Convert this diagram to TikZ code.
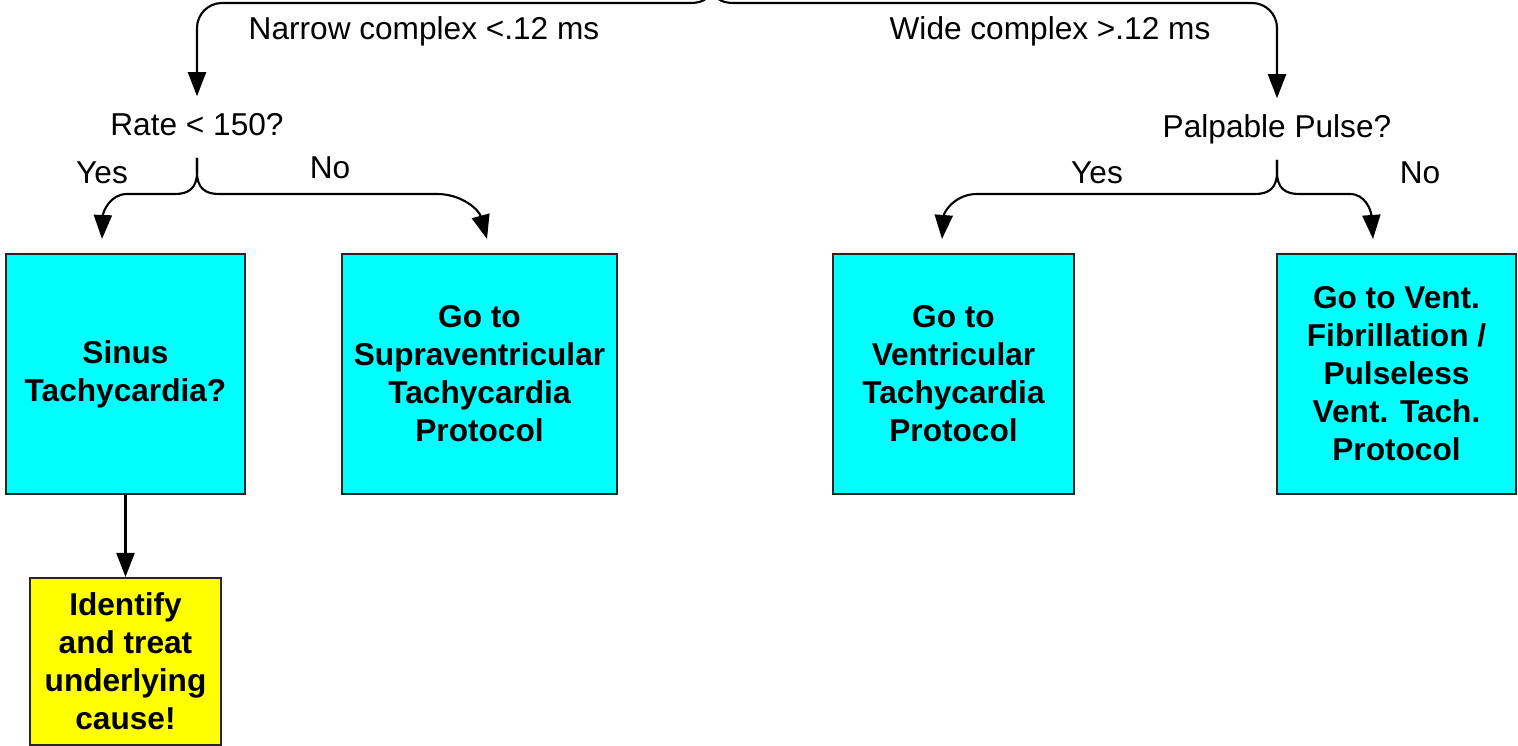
\documentclass[tikz,border=0pt]{standalone}
\usepackage{fontspec}
\setmainfont{Liberation Sans}
\usetikzlibrary{arrows.meta}

\definecolor{boxcyan}{RGB}{0,255,255}
\definecolor{boxyellow}{RGB}{255,255,0}

\tikzset{
    lbl/.style={font=\fontsize{18}{21.6}\selectfont, inner xsep=0pt, inner ysep=0.32cm, text height=13pt, text depth=0pt},
    box/.style={draw=black!85, line width=1.2pt, fill=boxcyan, align=center, inner sep=0pt, minimum height=4.8cm, font=\fontsize{18}{21.6}\selectfont\bfseries},
    flow/.style={line width=1.2pt, -{Triangle[length=0.48cm,width=0.36cm]}}
}

\begin{document}
\begin{tikzpicture}[x=0.02cm, y=-0.02cm]
            \clip (0,0) rectangle (1518,746);
            \coordinate (top) at (712,-60);
            \node[lbl] (narrow) at (424,28) {Narrow complex <.12 ms};
            \node[lbl] (wide) at (1050,28) {Wide complex >.12 ms};
            \node[lbl] (rate) at (197,124) {Rate < 150?};
            \node[lbl] (pulse) at (1277,126) {Palpable Pulse?};
            \node[lbl] (yesrate) at (102,172) {Yes};
            \node[lbl] (norate) at (330,167) {No};
            \node[lbl] (yespulse) at (1097,172) {Yes};
            \node[lbl] (nopulse) at (1420,172) {No};
            \node[box, minimum width=4.78cm] (sinus) at (125.5,374) {Sinus\\Tachycardia?};
            \node[box, minimum width=5.5cm] (svt) at (479.5,374) {Go to\\Supraventricular\\Tachycardia\\Protocol};
            \node[box, minimum width=4.82cm] (vt) at (953.5,374) {Go to\\Ventricular\\Tachycardia\\Protocol};
            \node[box, minimum width=4.78cm] (vf) at (1396.5,374) {Go to Vent.\\Fibrillation /\\Pulseless\\Vent. Tach.\\Protocol};
            \node[box, fill=boxyellow, minimum width=3.82cm, minimum height=3.34cm] (cause) at (125.5,661.5) {Identify\\and treat\\underlying\\cause!};
            \draw[flow] (top) -- (712,-18) .. controls (712,-2) and (704,3) .. (690,3) [rounded corners=0.5cm] -- (197,3) -- (rate.north);
            \draw[flow] (top) -- (712,-18) .. controls (712,-2) and (720,3) .. (734,3) [rounded corners=0.5cm] -- (1277,3) -- (pulse.north);
            \draw[flow] ([yshift=-0.12cm]rate.south) -- (197,172) .. controls (197,188) and (189,194) .. (175,194) -- (127,194) .. controls (110,194) and (103,212) .. ([xshift=-0.47cm,yshift=0.28cm]sinus.north);
            \draw[flow] ([yshift=-0.12cm]rate.south) -- (197,172) .. controls (197,188) and (205,194) .. (219,194) -- (437,194) .. controls (462,194) and (479,210) .. ([xshift=0.15cm,yshift=0.28cm]svt.north);
            \draw[flow] ([yshift=-0.12cm]pulse.south) -- (1277,172) .. controls (1277,188) and (1269,194) .. (1255,194) -- (977,194) .. controls (955,194) and (944,212) .. ([xshift=-0.23cm,yshift=0.28cm]vt.north);
            \draw[flow] ([yshift=-0.12cm]pulse.south) -- (1277,172) .. controls (1277,188) and (1285,194) .. (1299,194) -- (1350,194) .. controls (1365,194) and (1371,210) .. ([xshift=-0.47cm,yshift=0.28cm]vf.north);
            \draw[flow] (sinus) -- (cause);
\end{tikzpicture}
\end{document}
